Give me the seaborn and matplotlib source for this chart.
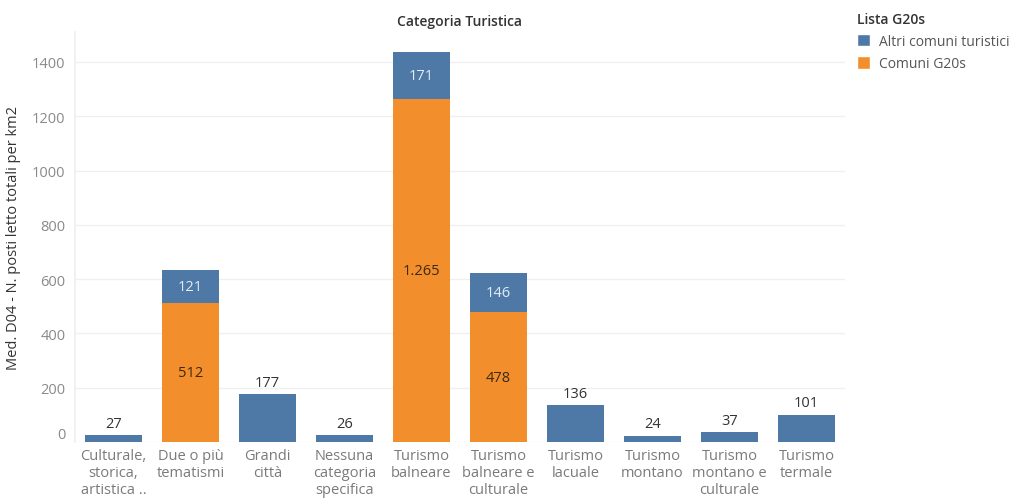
import matplotlib
matplotlib.use("Agg")
import matplotlib.pyplot as plt
from matplotlib.patches import Patch
import seaborn as sns
import pandas as pd

# Tourism categories (x axis, wrapped labels)
categories = [
    "Culturale,\nstorica,\nartistica ..",
    "Due o più\ntematismi",
    "Grandi\ncittà",
    "Nessuna\ncategoria\nspecifica",
    "Turismo\nbalneare",
    "Turismo\nbalneare e\nculturale",
    "Turismo\nlacuale",
    "Turismo\nmontano",
    "Turismo\nmontano e\nculturale",
    "Turismo\ntermale",
]
# Median beds per km2, by group (0 = group absent in that category)
comuni_g20s = [0, 512, 0, 0, 1265, 478, 0, 0, 0, 0]
altri_comuni = [27, 121, 177, 26, 171, 146, 136, 24, 37, 101]

series_names = ["Altri comuni turistici", "Comuni G20s"]
y_ticks = [0, 200, 400, 600, 800, 1000, 1200, 1400]

BLUE = "#4e79a7"
ORANGE = "#f28e2b"

sns.set_theme(style="white")
plt.rcParams["font.family"] = ["Open Sans", "DejaVu Sans"]

df = pd.DataFrame({
    "categoria": categories,
    "comuni": comuni_g20s,
    "altri": altri_comuni,
})
df["totale"] = df["comuni"] + df["altri"]

fig = plt.figure(figsize=(10.18, 5.02), dpi=100)
ax = fig.add_axes([0.0737, 0.1175, 0.7563, 0.8165])

# stacked bars: totals in blue, G20s share overlaid in orange
sns.barplot(data=df, x="categoria", y="totale", color=BLUE, width=0.75,
            saturation=1, ax=ax, order=categories, linewidth=0)
sns.barplot(data=df, x="categoria", y="comuni", color=ORANGE, width=0.75,
            saturation=1, ax=ax, order=categories, linewidth=0)


def fmt(v):
    return f"{v:,}".replace(",", ".")


for i, row in df.iterrows():
    c, a = row["comuni"], row["altri"]
    if c > 0:
        ax.text(i, c / 2, fmt(c), ha="center", va="center",
                fontsize=10.5, color="#3b2a14")
        ax.text(i, c + a / 2, fmt(a), ha="center", va="center",
                fontsize=10.5, color="#e3ebf5")
    else:
        ax.annotate(fmt(a), (i, a), xytext=(0, 3), textcoords="offset points",
                    ha="center", va="bottom", fontsize=10.5, color="#333333")

ax.set_ylim(0, 1510)
ax.set_xlim(-0.5, len(categories) - 0.5)
ax.set_yticks(y_ticks)
ax.set_yticklabels([str(t) for t in y_ticks])
ax.yaxis.grid(True, color="#f0f0f0", linewidth=1)
ax.set_axisbelow(True)
for s in ["top", "right", "bottom"]:
    ax.spines[s].set_visible(False)
ax.spines["left"].set_color("#f0f0f0")
ax.tick_params(axis="y", length=0, pad=7, labelsize=10.5, labelcolor="#8a8a8a")
ax.tick_params(axis="x", length=0, pad=4, labelsize=10.5, labelcolor="#7a7a7a")
for lab in ax.get_xticklabels():
    lab.set_linespacing(1.22)
ax.get_yticklabels()[0].set_verticalalignment("bottom")

ax.set_xlabel("")
ax.set_ylabel("Med. D04 - N. posti letto totali per km2", fontsize=10.5,
              color="#333333", labelpad=8)
ax.set_title("Categoria Turistica", fontsize=10, color="#333333",
             fontweight="semibold", pad=5)

handles = [Patch(facecolor=BLUE, label=series_names[0]),
           Patch(facecolor=ORANGE, label=series_names[1])]
leg = fig.legend(handles=handles, loc="upper left",
                 bbox_to_anchor=(0.836, 0.985), frameon=False,
                 title="Lista G20s", alignment="left", fontsize=10,
                 handlelength=1.0, handleheight=1.0, handletextpad=0.6,
                 labelspacing=0.55, borderaxespad=0)
leg.get_title().set_fontweight("semibold")
leg.get_title().set_color("#333333")
leg.get_title().set_fontsize(10)
for t in leg.get_texts():
    t.set_color("#555555")

fig.savefig("out.png", dpi=100)
